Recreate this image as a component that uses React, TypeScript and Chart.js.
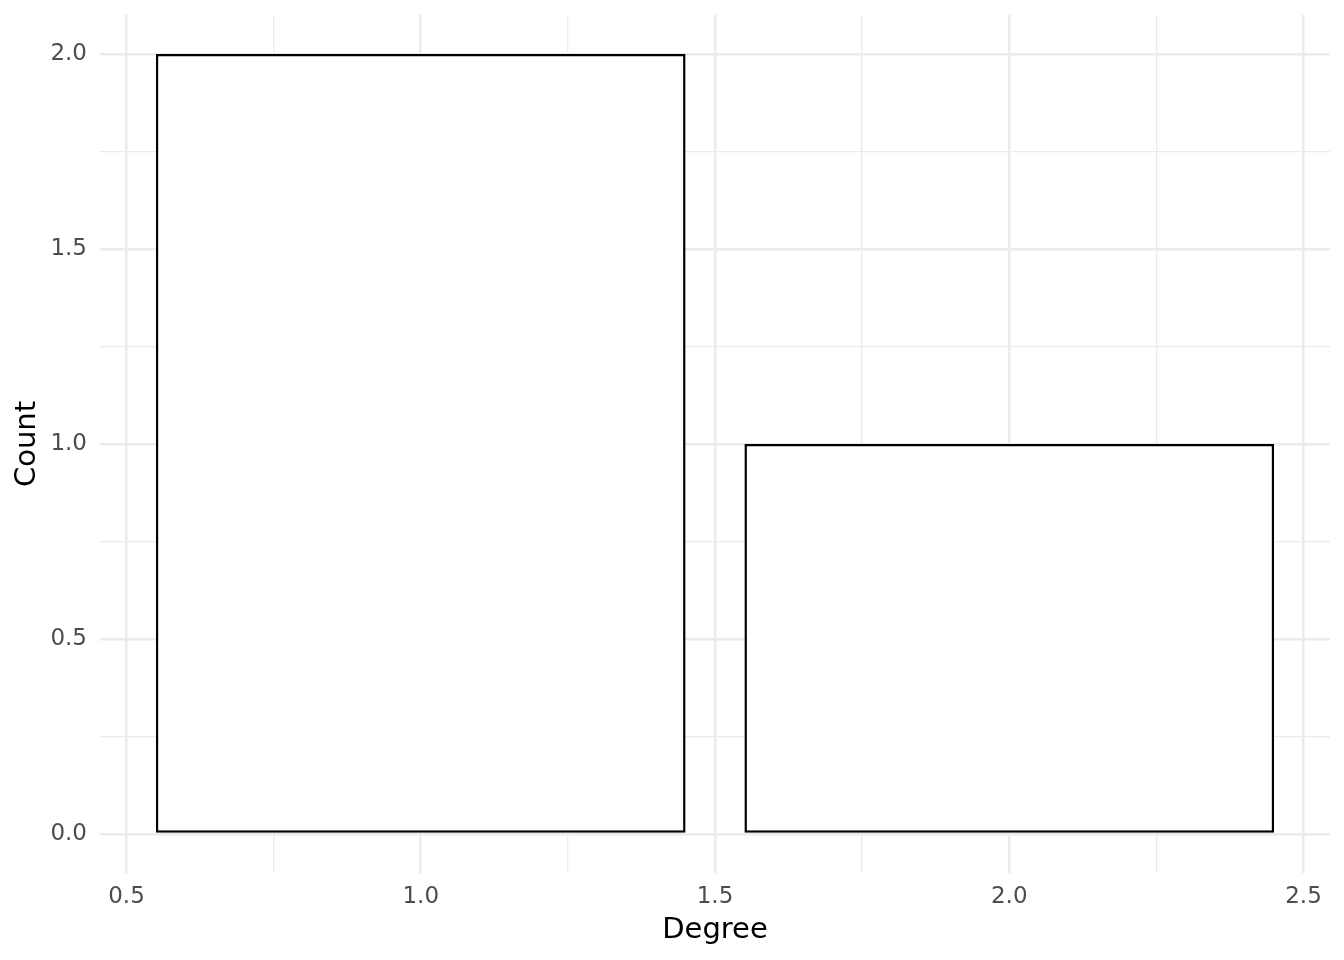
import React, { useEffect, useRef } from "react";
import { Chart, registerables } from "chart.js";

Chart.register(...registerables);

const degrees: number[] = [1, 2];
const counts: number[] = [2, 1];
const xTickStep = 0.25;
const yTickStep = 0.25;
const xMin = 0.455;
const xMax = 2.545;
const yMin = -0.1;
const yMax = 2.1;

const FONT = "'DejaVu Sans', sans-serif";
const isMajor = (v: number) => Math.abs(v * 2 - Math.round(v * 2)) < 1e-6;

export default function App() {
  const ref = useRef<HTMLCanvasElement | null>(null);
  useEffect(() => {
    if (!ref.current) return;
    const gridOpts = {
      color: "#ebebeb",
      lineWidth: (ctx: any) => (ctx.tick && isMajor(ctx.tick.value) ? 2.5 : 1.3),
      drawTicks: false,
      offset: false,
    };
    const chart = new Chart(ref.current, {
      type: "bar",
      data: {
        datasets: [
          {
            data: degrees.map((d, i) => ({ x: d, y: counts[i] })),
            backgroundColor: "#ffffff",
            borderColor: "#000000",
            borderWidth: 2.5,
            borderSkipped: false,
            barPercentage: 0.9,
            categoryPercentage: 1,
            xAxisID: "x",
            yAxisID: "y",
          },
        ],
      },
      options: {
        animation: false,
        responsive: false,
        layout: { padding: { top: 15, right: 14, left: 0, bottom: 0 } },
        plugins: { legend: { display: false }, tooltip: { enabled: false } },
        scales: {
          x: {
            type: "linear",
            display: false,
            offset: false,
            grid: { offset: false },
            min: xMin,
            max: xMax,
            ticks: { stepSize: 1, includeBounds: false },
          },
          x2: {
            type: "linear",
            position: "bottom",
            offset: false,
            min: xMin,
            max: xMax,
            border: { display: false },
            grid: gridOpts,
            ticks: {
              stepSize: xTickStep,
              includeBounds: false,
              autoSkip: false,
              maxRotation: 0,
              padding: 10,
              color: "#4d4d4d",
              font: { family: FONT, size: 23 },
              callback: (v: any) => (isMajor(Number(v)) ? Number(v).toFixed(1) : ""),
            },
            title: {
              display: true,
              text: "Degree",
              color: "#000000",
              font: { family: FONT, size: 29 },
              padding: { top: 0, bottom: 12 },
            },
            afterFit: (s: any) => {
              s.height = 87;
              s.paddingLeft = 0;
              s.paddingRight = 0;
            },
          },
          y: {
            type: "linear",
            offset: false,
            min: yMin,
            max: yMax,
            border: { display: false },
            grid: gridOpts,
            ticks: {
              stepSize: yTickStep,
              includeBounds: false,
              autoSkip: false,
              padding: 13,
              color: "#4d4d4d",
              font: { family: FONT, size: 23 },
              callback: (v: any) => (isMajor(Number(v)) ? Number(v).toFixed(1) : ""),
            },
            title: {
              display: true,
              text: "Count",
              color: "#000000",
              font: { family: FONT, size: 29 },
              padding: { top: 10, bottom: 0 },
            },
            afterFit: (s: any) => {
              s.width = 100;
              s.paddingTop = 0;
              s.paddingBottom = 0;
            },
          },
        },
      },
    } as any);
    return () => chart.destroy();
  }, []);
  return (
    <div style={{ position: "absolute", left: 0, top: 0, width: 1344, height: 960, background: "#fff" }}>
      <canvas ref={ref} width={1344} height={960} style={{ display: "block" }} />
    </div>
  );
}
